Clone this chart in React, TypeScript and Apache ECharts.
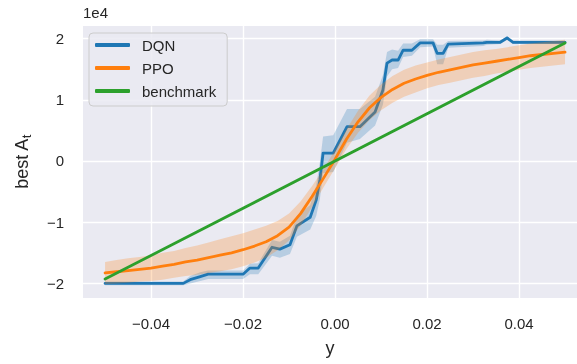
import React, { useEffect, useRef } from "react";
import * as echarts from "echarts";

// Tick positions
const xTicks = [-0.04, -0.02, 0, 0.02, 0.04];
const yTicks = [-20000, -10000, 0, 10000, 20000];

// DQN: best A_t per y, with confidence band
const dqnX = [
  -0.05, -0.033, -0.0315, -0.0293, -0.0276, -0.02, -0.0185, -0.0167, -0.0137, -0.012,
  -0.0098, -0.0083, -0.0054, -0.0041, -0.0033, -0.0026, -0.0004, 0.0026, 0.0054, 0.0087,
  0.0104, 0.0113, 0.0124, 0.0137, 0.0148, 0.0167, 0.0185, 0.0213, 0.0222, 0.0235,
  0.0246, 0.0322, 0.033, 0.0359, 0.0374, 0.0387, 0.05,
];
const dqnY = [
  -20000, -20000, -19400, -18900, -18500, -18500, -17500, -17500, -14100, -14400,
  -13700, -10600, -9200, -6400, -3100, 1300, 1300, 5600, 5600, 8000,
  11600, 16000, 16500, 16500, 18100, 18100, 19300, 19300, 17600, 17600,
  19100, 19300, 19400, 19400, 20100, 19400, 19400,
];
const dqnLower = [
  -20300, -20300, -20000, -19600, -19300, -19300, -18500, -18500, -15500, -15800,
  -15200, -12400, -11200, -9000, -6200, -2000, -1800, 3000, 3600, 5800,
  9200, 13800, 15000, 15200, 17000, 17200, 18600, 18700, 15800, 15800,
  18500, 18800, 19000, 19100, 19800, 19100, 19100,
];
const dqnUpper = [
  -19700, -19700, -18800, -18200, -17900, -17900, -16800, -16700, -12900, -13200,
  -12200, -9000, -7200, -4000, -200, 4000, 4200, 8500, 8500, 10500,
  14000, 17800, 18200, 18000, 19200, 19200, 19900, 19900, 19000, 19000,
  19600, 19700, 19800, 19700, 20400, 19700, 19700,
];

// PPO: best A_t per y, with confidence band
const ppoX = [
  -0.05, -0.0475, -0.045, -0.0425, -0.04, -0.0375, -0.035, -0.0325, -0.03, -0.0275,
  -0.025, -0.0225, -0.02, -0.0175, -0.015, -0.0125, -0.01, -0.0075, -0.005, -0.0025,
  0, 0.0025, 0.005, 0.0075, 0.01, 0.0125, 0.015, 0.0175, 0.02, 0.0225,
  0.025, 0.0275, 0.03, 0.0325, 0.035, 0.0375, 0.04, 0.0425, 0.045, 0.0475, 0.05,
];
const ppoY = [
  -18300, -18100, -17900, -17700, -17500, -17200, -16900, -16500, -16200, -15800,
  -15400, -15000, -14500, -13900, -13200, -12200, -10800, -8600, -5800, -2800,
  300, 3600, 6400, 8700, 10400, 11700, 12700, 13400, 14000, 14500,
  14900, 15300, 15700, 16000, 16300, 16600, 16900, 17200, 17400, 17600, 17800,
];
const ppoLower = [
  -20100, -20000, -19900, -19700, -19600, -19400, -19100, -18800, -18600, -18300,
  -18000, -17700, -17200, -16600, -15800, -14600, -13000, -10600, -7500, -4300,
  -1200, 2000, 4600, 6700, 8300, 9500, 10500, 11200, 11900, 12400,
  12800, 13200, 13600, 13900, 14300, 14600, 14900, 15200, 15400, 15600, 15800,
];
const ppoUpper = [
  -16500, -16200, -15900, -15700, -15400, -15000, -14700, -14200, -13800, -13300,
  -12800, -12300, -11800, -11200, -10600, -9800, -8600, -6600, -4100, -1300,
  1800, 5200, 8200, 10700, 12500, 13900, 14900, 15600, 16100, 16600,
  17000, 17400, 17800, 18100, 18300, 18600, 18900, 19200, 19400, 19600, 19800,
];

// Benchmark: straight line
const benchX = [-0.05, 0.05];
const benchY = [-19300, 19300];

const FONT = "'Liberation Sans', Arial, sans-serif";
const TEXT = "#262626";
const BLUE = "#1f77b4";
const ORANGE = "#ff7f0e";
const GREEN = "#2ca02c";

const pairs = (xs: number[], ys: number[]) => xs.map((x, i) => [x, ys[i]]);

const minusSign = (s: string) => s.replace("-", "\u2212");

function bandSeries(name: string, xs: number[], lo: number[], hi: number[], fill: string, z: number) {
  return {
    type: "custom",
    name,
    silent: true,
    z,
    clip: true,
    data: [[xs[0], lo[0]]],
    renderItem: (_params: any, api: any) => {
      const pts: number[][] = [];
      for (let i = 0; i < xs.length; i++) pts.push(api.coord([xs[i], hi[i]]));
      for (let i = xs.length - 1; i >= 0; i--) pts.push(api.coord([xs[i], lo[i]]));
      return { type: "polygon", shape: { points: pts }, style: { fill, stroke: "none" } };
    },
  };
}

function lineSeries(name: string, data: number[][], color: string, z: number) {
  return {
    type: "line",
    name,
    data,
    z,
    symbol: "none",
    showSymbol: false,
    color,
    itemStyle: { color },
    lineStyle: { color, width: 2.8, cap: "round", join: "round" },
  };
}

export default function App() {
  const ref = useRef<HTMLDivElement>(null);

  useEffect(() => {
    if (!ref.current) return;
    const chart = echarts.init(ref.current, undefined, { renderer: "svg" });
    chart.setOption({
      animation: false,
      textStyle: { fontFamily: FONT, color: TEXT },
      grid: {
        left: 83,
        right: 0,
        top: 26,
        bottom: 66,
        show: true,
        backgroundColor: "#eaeaf2",
        borderWidth: 0,
      },
      xAxis: {
        type: "value",
        min: -0.0548,
        max: 0.0526,
        name: "y",
        nameLocation: "middle",
        nameGap: 41,
        nameTextStyle: { fontSize: 18, color: TEXT, fontFamily: FONT },
        axisLine: { show: false },
        axisTick: { show: false, customValues: xTicks },
        axisLabel: {
          customValues: xTicks,
          margin: 18,
          fontSize: 15,
          color: TEXT,
          fontFamily: FONT,
          formatter: (v: number) => minusSign(v.toFixed(2)),
        },
        splitLine: { show: true, lineStyle: { color: "#ffffff", width: 1.4 } },
      },
      yAxis: {
        type: "value",
        min: -22390,
        max: 22060,
        name: "{a|best A}{s|t}",
        nameLocation: "middle",
        nameGap: 50,
        nameRotate: 90,
        nameTextStyle: {
          color: TEXT,
          fontFamily: FONT,
          rich: {
            a: { fontSize: 18, color: TEXT, fontFamily: FONT },
            s: { fontSize: 13, color: TEXT, fontFamily: FONT, padding: [9, 0, 0, 0] },
          },
        },
        axisLine: { show: false },
        axisTick: { show: false, customValues: yTicks },
        axisLabel: {
          customValues: yTicks,
          margin: 19,
          fontSize: 15,
          color: TEXT,
          fontFamily: FONT,
          formatter: (v: number) => minusSign(String(Math.round(v / 10000))),
        },
        splitLine: { show: true, lineStyle: { color: "#ffffff", width: 1.4 } },
      },
      legend: {
        orient: "vertical",
        left: 89,
        top: 33,
        data: ["DQN", "PPO", "benchmark"],
        icon: "roundRect",
        itemWidth: 35,
        itemHeight: 4,
        itemGap: 7,
        padding: [4, 11, 7, 6],
        backgroundColor: "rgba(234,234,242,0.85)",
        borderColor: "#cccccc",
        borderWidth: 1,
        borderRadius: 4,
        textStyle: {
          fontSize: 15,
          lineHeight: 16,
          color: TEXT,
          fontFamily: FONT,
          padding: [0, 0, 0, 7],
        },
      },
      graphic: [
        {
          type: "text",
          left: 83,
          top: 5,
          style: { text: "1e4", fontSize: 15, fill: TEXT, fontFamily: FONT },
        },
      ],
      series: [
        bandSeries("DQN band", dqnX, dqnLower, dqnUpper, "rgba(31,119,180,0.25)", 1),
        lineSeries("DQN", pairs(dqnX, dqnY), BLUE, 2),
        bandSeries("PPO band", ppoX, ppoLower, ppoUpper, "rgba(255,127,14,0.25)", 3),
        lineSeries("PPO", pairs(ppoX, ppoY), ORANGE, 4),
        lineSeries("benchmark", pairs(benchX, benchY), GREEN, 5),
      ],
    });
    return () => chart.dispose();
  }, []);

  return (
    <div
      ref={ref}
      style={{ position: "fixed", left: 0, top: 0, width: 577, height: 364 }}
    />
  );
}
